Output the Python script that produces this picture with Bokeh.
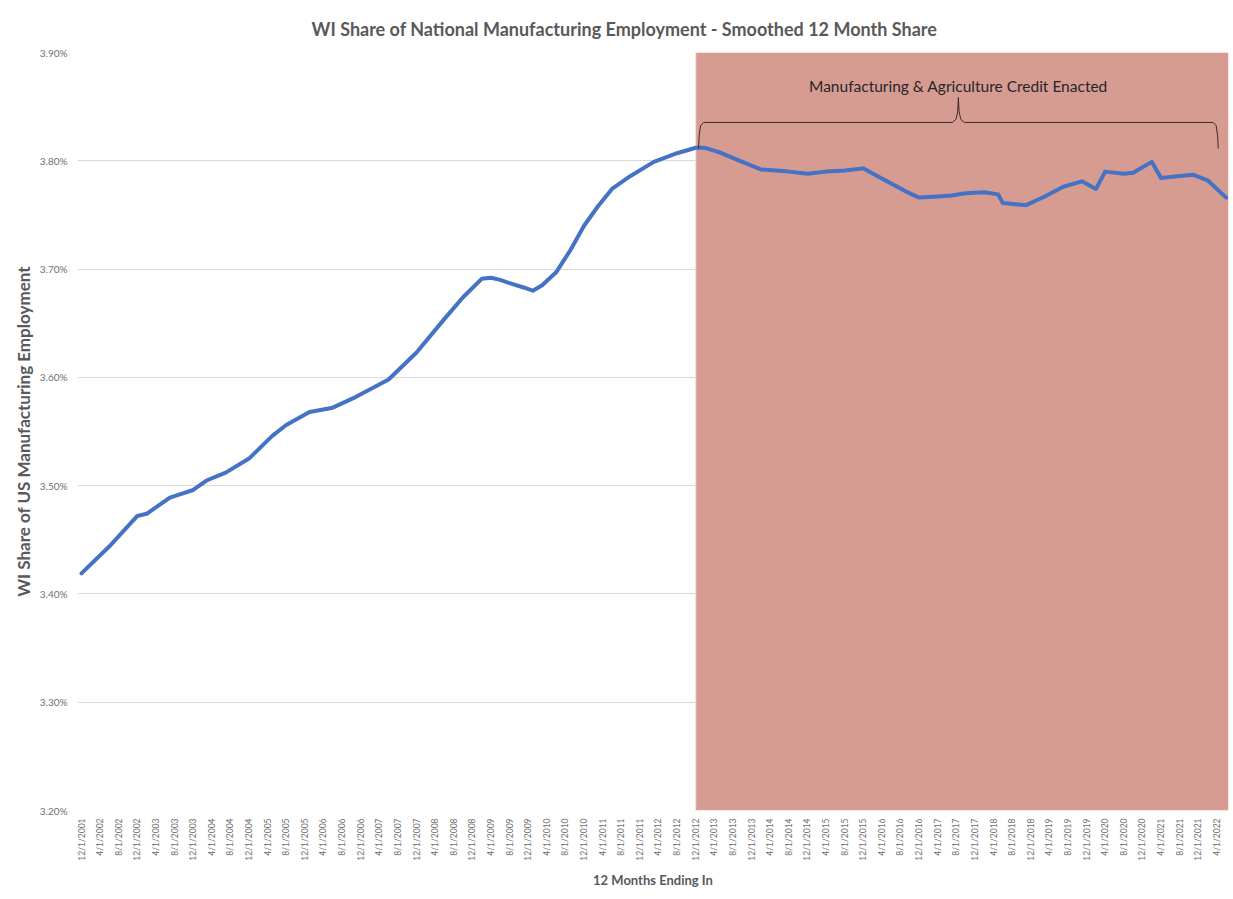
import math
from bokeh.plotting import figure
from bokeh.models import FixedTicker, PrintfTickFormatter, Label
from bokeh.embed import file_html
from bokeh.resources import INLINE

# ---------------- data ----------------
chart_title = "WI Share of National Manufacturing Employment - Smoothed 12 Month Share"
y_title = "WI Share of US Manufacturing Employment"
x_title = "12 Months Ending In"
note_text = "Manufacturing & Agriculture Credit Enacted"

months = ["2001-12", "2002-06", "2002-12", "2003-02", "2003-07", "2003-12", "2004-03", "2004-07",
          "2004-12", "2005-05", "2005-08", "2006-01", "2006-06", "2006-11", "2007-06", "2007-12",
          "2008-06", "2008-10", "2009-02", "2009-04", "2009-06", "2009-08", "2009-11", "2010-01",
          "2010-03", "2010-06", "2010-09", "2010-12", "2011-03", "2011-06", "2011-10", "2012-03",
          "2012-08", "2012-12", "2013-02", "2013-05", "2013-10", "2014-02", "2014-08", "2014-12",
          "2015-04", "2015-08", "2015-12", "2016-03", "2016-06", "2016-09", "2016-12", "2017-04",
          "2017-07", "2017-10", "2018-02", "2018-05", "2018-06", "2018-11", "2019-03", "2019-07",
          "2019-11", "2020-02", "2020-04", "2020-08", "2020-10", "2021-02", "2021-04", "2021-08",
          "2021-11", "2022-02", "2022-06"]
share = [3.419, 3.444, 3.472, 3.474, 3.489, 3.496, 3.505, 3.512,
         3.525, 3.546, 3.556, 3.568, 3.572, 3.582, 3.598, 3.623,
         3.654, 3.674, 3.691, 3.692, 3.690, 3.687, 3.683, 3.680,
         3.685, 3.697, 3.717, 3.740, 3.758, 3.774, 3.786, 3.799,
         3.807, 3.812, 3.812, 3.808, 3.799, 3.792, 3.790, 3.788,
         3.790, 3.791, 3.793, 3.786, 3.779, 3.772, 3.766, 3.767,
         3.768, 3.770, 3.771, 3.769, 3.761, 3.759, 3.767, 3.776,
         3.781, 3.774, 3.790, 3.788, 3.789, 3.799, 3.784, 3.786,
         3.787, 3.782, 3.766]

credit_start = "2012-12"
first_label = "2001-12"
last_label = "2022-04"
label_step = 4
y_ticks = [3.20, 3.30, 3.40, 3.50, 3.60, 3.70, 3.80, 3.90]

# ---------------- helpers ----------------
def month_index(s):
    y, m = int(s[:4]), int(s[5:7])
    fy, fm = int(first_label[:4]), int(first_label[5:7])
    return (y - fy) * 12 + (m - fm)

x = [month_index(s) for s in months]
tick_pos = list(range(0, month_index(last_label) + 1, label_step))
def tick_text(i):
    fy, fm = int(first_label[:4]), int(first_label[5:7])
    tot = fy * 12 + (fm - 1) + i
    return f"{tot % 12 + 1}/1/{tot // 12}"
tick_labels = {t: tick_text(t) for t in tick_pos}

x_lo, x_hi = -0.86, x[-1] + 0.5
y_lo, y_hi = y_ticks[0], y_ticks[-1]

FONT = "Lato"
GRAY = "#595959"

p = figure(width=1230, height=897, output_backend="svg", toolbar_location=None,
           x_range=(x_lo, x_hi), y_range=(y_lo, y_hi),
           min_border_left=77, min_border_right=2, min_border_top=52, min_border_bottom=87)
p.outline_line_color = None
p.background_fill_color = "white"
p.border_fill_color = "white"

p.title.text = chart_title
p.title.text_font = FONT
p.title.text_font_size = "18px"
p.title.text_font_style = "bold"
p.title.text_color = GRAY
p.title.align = "left"
p.title.standoff = 26
p.title.offset = 234

# grid
p.xgrid.grid_line_color = None
p.ygrid.grid_line_color = "#d9d9d9"
p.ygrid.ticker = FixedTicker(ticks=y_ticks)

# y axis
p.yaxis.ticker = FixedTicker(ticks=y_ticks)
p.yaxis.formatter = PrintfTickFormatter(format="%.2f%%")
p.yaxis.axis_line_color = None
p.yaxis.major_tick_line_color = None
p.yaxis.major_tick_out = 0
p.yaxis.minor_tick_line_color = None
p.yaxis.minor_tick_out = 0
p.yaxis.major_label_text_font = FONT
p.yaxis.major_label_text_font_size = "10px"
p.yaxis.major_label_text_color = "#6f6f6f"
p.yaxis.major_label_standoff = 10
p.yaxis.axis_label = y_title
p.yaxis.axis_label_text_font = FONT
p.yaxis.axis_label_text_font_size = "17px"
p.yaxis.axis_label_text_font_style = "bold"
p.yaxis.axis_label_text_color = GRAY
p.yaxis.axis_label_standoff = 3

# x axis
p.xaxis.ticker = FixedTicker(ticks=tick_pos)
p.xaxis.major_label_overrides = tick_labels
p.xaxis.major_label_orientation = math.pi / 2
p.xaxis.axis_line_color = None
p.xaxis.major_tick_line_color = None
p.xaxis.major_tick_out = 0
p.xaxis.minor_tick_line_color = None
p.xaxis.minor_tick_out = 0
p.xaxis.major_label_text_font = FONT
p.xaxis.major_label_text_font_size = "8.5px"
p.xaxis.major_label_text_color = "#6f6f6f"
p.xaxis.major_label_standoff = 8
p.xaxis.axis_label = x_title
p.xaxis.axis_label_text_font = FONT
p.xaxis.axis_label_text_font_size = "13px"
p.xaxis.axis_label_text_font_style = "bold"
p.xaxis.axis_label_text_color = GRAY
p.xaxis.axis_label_standoff = 8

# shaded period
xs = month_index(credit_start)
p.quad(left=[xs], right=[x_hi], bottom=[y_lo], top=[y_hi],
       fill_color="#d69c92", line_color=None)
p.segment(x0=[xs], x1=[xs], y0=[y_lo], y1=[y_hi], line_color="#e6e6e6", line_width=1)

# series
p.line(x, share, line_color="#4472c4", line_width=4, line_join="round", line_cap="round")

# brace annotation spanning the credit period
b0 = xs + 0.6
b1 = month_index(last_label) + 0.3
bc = (b0 + b1) / 2
y_hook, y_bar, y_tip = 3.8113, 3.8354, 3.8584
bx = [b0, b0 + 0.15, b0 + 0.45, b0 + 1.1, bc - 1.3, bc - 0.5, bc - 0.15, bc,
      bc + 0.15, bc + 0.5, bc + 1.3, b1 - 1.1, b1 - 0.45, b1 - 0.15, b1]
by = [y_hook, y_bar - 0.012, y_bar - 0.003, y_bar, y_bar, y_bar + 0.003, y_bar + 0.01, y_tip,
      y_bar + 0.01, y_bar + 0.003, y_bar, y_bar, y_bar - 0.003, y_bar - 0.012, y_hook]
p.line(bx, by, line_color="#3a2a28", line_width=1)

p.add_layout(Label(x=bc, y=3.8695, text=note_text, text_font=FONT, text_font_size="15.5px",
                   text_color="#262626", text_align="center", text_baseline="middle"))

open("out.html", "w").write(file_html(p, INLINE))
